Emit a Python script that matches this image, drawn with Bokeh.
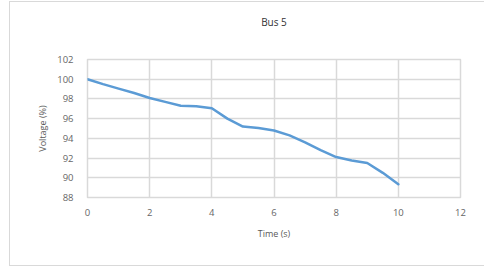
from bokeh.plotting import figure
from bokeh.models import Range1d, FixedTicker, Title
from bokeh.embed import file_html
from bokeh.resources import INLINE

title_text = "Bus 5"
time_s = [0, 0.5, 1, 1.5, 2, 2.5, 3, 3.5, 4, 4.5, 5, 5.5, 6, 6.5, 7, 7.5, 8, 8.5, 9, 9.5, 10]
voltage = [100.0, 99.5, 99.05, 98.6, 98.1, 97.7, 97.3, 97.25, 97.05, 96.0, 95.2, 95.05, 94.8,
           94.3, 93.6, 92.8, 92.1, 91.75, 91.5, 90.5, 89.35]
x_ticks = [0, 2, 4, 6, 8, 10, 12]
y_ticks = [88, 90, 92, 94, 96, 98, 100, 102]

p = figure(width=474, height=263, output_backend="svg", toolbar_location=None,
           x_range=Range1d(0, 12), y_range=Range1d(88, 102),
           frame_width=373, frame_height=138,
           min_border_left=77, min_border_right=24, min_border_top=57, min_border_bottom=68)
p.styles = {"border-left": "1px solid #d9d9d9", "border-top": "1px solid #d9d9d9",
            "border-bottom": "1px solid #d9d9d9", "margin-left": "9px", "margin-top": "1px"}

# spacer (nearest the frame), then the real title above it
p.add_layout(Title(text=" ", text_font_size="8px", standoff=15), "above")
p.add_layout(Title(text=title_text, align="center", offset=-34, text_font="Open Sans",
                   text_font_size="10px", text_font_style="normal", text_color="#333333"), "above")

p.line(time_s, voltage, line_color="#5b9bd5", line_width=2.5, line_join="round", line_cap="round")

for ax in (p.xaxis[0], p.yaxis[0]):
    ax.axis_line_color = None
    ax.major_tick_line_color = None
    ax.minor_tick_line_color = None
    ax.major_label_text_font = "Open Sans"
    ax.major_label_text_font_size = "9.5px"
    ax.major_label_text_color = "#666666"
    ax.axis_label_text_font = "Open Sans"
    ax.axis_label_text_font_size = "9px"
    ax.axis_label_text_font_style = "normal"
    ax.axis_label_text_color = "#595959"

p.xaxis.ticker = FixedTicker(ticks=x_ticks)
p.yaxis.ticker = FixedTicker(ticks=y_ticks)
p.xaxis.axis_label = "Time (s)"
p.yaxis.axis_label = "Voltage (%)"
p.xaxis.major_label_standoff = 5
p.yaxis.major_label_standoff = 8
p.xaxis.axis_label_standoff = 8
p.yaxis.axis_label_standoff = 5

p.xgrid.ticker = FixedTicker(ticks=x_ticks)
p.ygrid.ticker = FixedTicker(ticks=y_ticks)
p.grid.grid_line_color = "#d9d9d9"
p.grid.grid_line_width = 1.5
p.outline_line_color = "#d9d9d9"
p.outline_line_width = 1.5

open("out.html", "w").write(file_html(p, INLINE))
